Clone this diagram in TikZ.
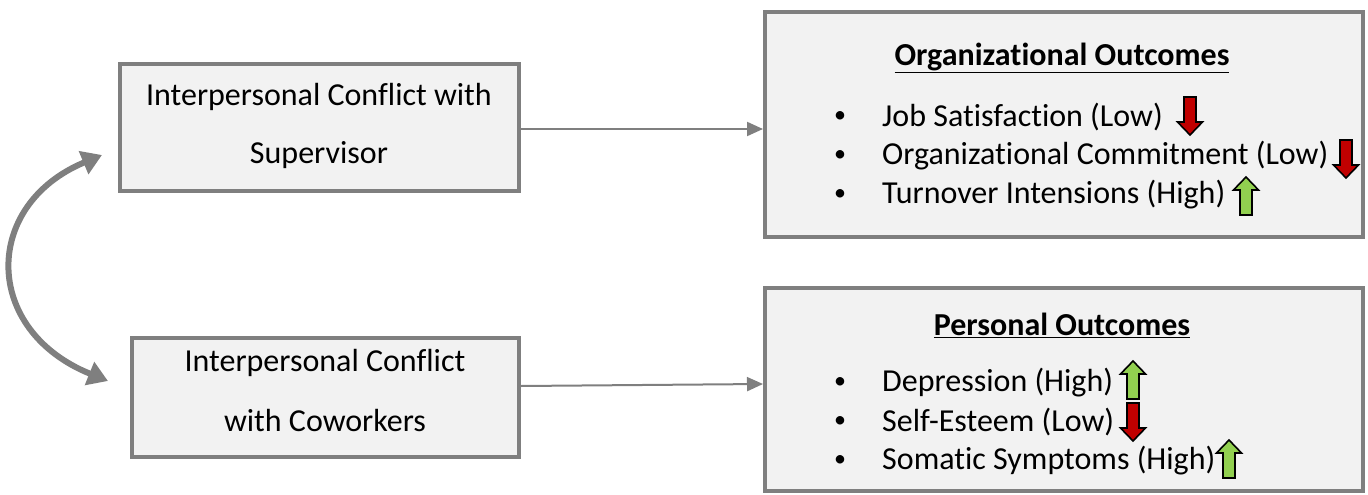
\documentclass[tikz,border=0pt]{standalone}
\usepackage{fontspec}
\setmainfont{Carlito}[Ligatures=NoCommon]
\usetikzlibrary{arrows.meta}
\definecolor{boxgray}{HTML}{7F7F7F}
\definecolor{boxfill}{HTML}{F2F2F2}
\definecolor{redarr}{HTML}{C00000}
\definecolor{greenarr}{HTML}{92D050}
\tikzset{
  box/.style={draw=boxgray, line width=4pt, fill=boxfill},
  conn/.style={draw=boxgray, line width=2pt, -{Triangle[width=14pt,length=16pt]}},
  bigconn/.style={draw=boxgray, line width=6pt, {Triangle[width=24pt,length=20pt]}-{Triangle[width=24pt,length=20pt]}},
  txt/.style={font=\fontsize{32}{38}\selectfont, inner sep=0pt},
  itemtxt/.style={txt, anchor=west},
  bul/.style={font=\fontsize{24}{28}\selectfont, inner sep=0pt},
  downarr/.pic={\draw[line width=1.6pt, fill=redarr] (-6,-19) -- (6,-19) -- (6,6) -- (12.5,6) -- (0,19) -- (-12.5,6) -- (-6,6) -- cycle;},
  uparr/.pic={\draw[line width=1.6pt, fill=greenarr] (-6,19) -- (6,19) -- (6,-6) -- (12.5,-6) -- (0,-19) -- (-12.5,-6) -- (-6,-6) -- cycle;}
}
\begin{document}
\begin{tikzpicture}[x=1pt,y=-1pt]
\useasboundingbox (0,0) rectangle (1368,495);
% boxes
\draw[box] (120,64) rectangle (519,191);
\draw[box] (132,338) rectangle (519,457);
\draw[box] (765,12) rectangle (1363,237);
\draw[box] (765,288) rectangle (1363,491);
\coordinate (b1e) at (521,129);
\coordinate (o1w) at (763,129);
\coordinate (b2e) at (521,386);
\coordinate (o2w) at (763,384);
\node[txt] (s1) at (319,97) {Interpersonal Conflict with};
\node[txt] (s2) at (319,155) {Supervisor};
\node[txt] (c1) at (325,363) {Interpersonal Conflict};
\node[txt] (c2) at (325,421) {with Coworkers};
% connectors
\draw[conn] (b1e) -- (o1w);
\draw[conn] (b2e) -- (o2w);
\coordinate (ct) at (102,155);
\coordinate (cb) at (108,381);
\draw[bigconn] (ct) .. controls (-18,205) and (-18,330) .. (cb);
% organizational outcomes
\node[txt, font=\fontsize{32}{38}\selectfont\bfseries] (ot) at (1062,58) {\underline{Organizational Outcomes}};
\node[bul] at (840,117) {•};
\node[bul] at (840,156) {•};
\node[bul] at (840,195) {•};
\node[itemtxt] (o1) at (882,117) {Job Satisfaction (Low)};
\node[itemtxt] (o2) at (882,156) {Organizational Commitment (Low)};
\node[itemtxt] (o3) at (882,195) {Turnover Intensions (High)};
\pic at (1190,116) {downarr};
\pic at (1346,159) {downarr};
\pic at (1246,196) {uparr};
% personal outcomes
\node[txt, font=\fontsize{32}{38}\selectfont\bfseries] (pt) at (1062,325) {\underline{Personal Outcomes}};
\node[bul] at (840,383) {•};
\node[bul] at (840,422) {•};
\node[bul] at (840,461) {•};
\node[itemtxt] (p1) at (882,383) {Depression (High)};
\node[itemtxt] (p2) at (882,422) {Self-Esteem (Low)};
\node[itemtxt] (p3) at (882,461) {Somatic Symptoms (High)};
\pic at (1133,380) {uparr};
\pic at (1133,422) {downarr};
\pic at (1229,459) {uparr};
\end{tikzpicture}
\end{document}
